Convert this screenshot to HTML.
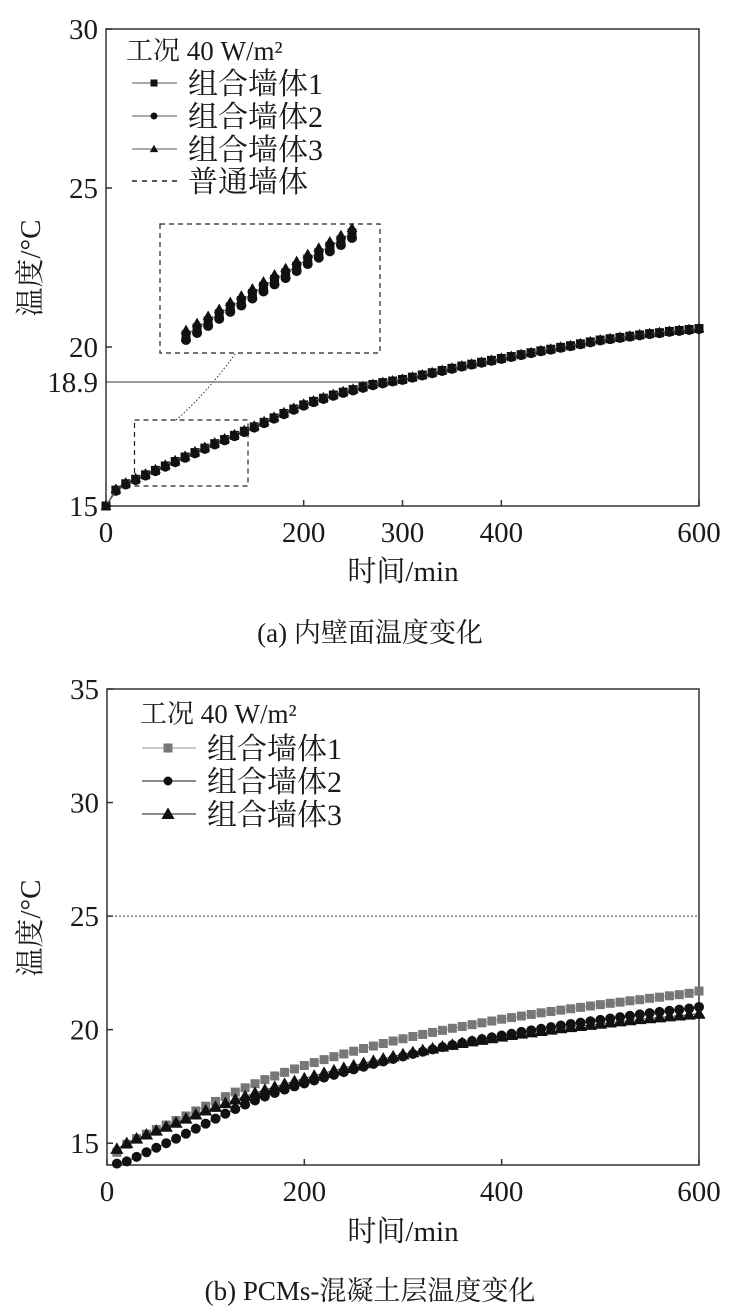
<!DOCTYPE html>
<html><head><meta charset="utf-8">
<style>
html,body{margin:0;padding:0;background:#fff;}
svg{display:block;font-family:"Liberation Serif","Noto Serif CJK SC",serif;}
text{fill:#1a1a1a;}
</style></head>
<body>
<svg id="fig" width="739" height="1316" viewBox="0 0 739 1316" xmlns="http://www.w3.org/2000/svg">
<g id="chartA"></g>
<g id="chartB"></g>
<text x="370" y="642" font-size="27" text-anchor="middle">(a) 内壁面温度变化</text>
<text x="370" y="1300" font-size="27" text-anchor="middle">(b) PCMs-混凝土层温度变化</text>
</svg>
<script>
// ---- Chart A data ----
const timesA = [0,10,20,30,40,50,60,70,80,90,100,110,120,130,140,150,160,170,180,190,200,210,220,230,240,250,260,270,280,290,300,310,320,330,340,350,360,370,380,390,400,410,420,430,440,450,460,470,480,490,500,510,520,530,540,550,560,570,580,590,600];
const wallA1 = [15.0,15.5,15.7,15.84,15.98,16.12,16.26,16.4,16.54,16.68,16.82,16.96,17.09,17.22,17.35,17.49,17.63,17.77,17.91,18.05,18.18,18.29,18.39,18.49,18.58,18.66,18.74,18.82,18.88,18.93,18.98,19.05,19.12,19.19,19.26,19.33,19.4,19.46,19.52,19.58,19.64,19.7,19.76,19.82,19.88,19.93,19.99,20.04,20.1,20.16,20.22,20.26,20.3,20.34,20.38,20.42,20.45,20.49,20.52,20.55,20.58];
const wallA2 = [15.0,15.46,15.66,15.8,15.94,16.08,16.22,16.36,16.5,16.64,16.78,16.92,17.05,17.18,17.31,17.45,17.59,17.73,17.87,18.01,18.14,18.25,18.35,18.45,18.54,18.62,18.7,18.78,18.84,18.9,18.95,19.02,19.09,19.16,19.23,19.3,19.37,19.43,19.49,19.55,19.61,19.67,19.73,19.79,19.85,19.9,19.96,20.01,20.07,20.13,20.19,20.23,20.27,20.31,20.35,20.39,20.42,20.46,20.49,20.52,20.55];
const wallA3 = [15.0,15.54,15.74,15.88,16.02,16.16,16.3,16.44,16.58,16.72,16.86,17.0,17.13,17.26,17.39,17.53,17.67,17.81,17.95,18.09,18.22,18.32,18.42,18.52,18.61,18.69,18.77,18.84,18.9,18.95,19.0,19.07,19.14,19.21,19.28,19.35,19.42,19.48,19.54,19.6,19.66,19.72,19.78,19.84,19.9,19.95,20.01,20.06,20.12,20.18,20.24,20.28,20.32,20.36,20.4,20.44,20.47,20.51,20.54,20.57,20.6];
const ordinaryA = 18.9;
const yTicksA = [15,20,25,30];
const xTicksA = [0,200,300,400,600];
const insetTimes = [30,37,44,51,58,65,72,79,86,93,100,107,114,121,128,135];
const insetVals = [15.84,15.94,16.04,16.14,16.24,16.33,16.43,16.53,16.63,16.72,16.82,16.92,17.01,17.1,17.19,17.29];
// ---- Chart B data ----
const timesB = [10,20,30,40,50,60,70,80,90,100,110,120,130,140,150,160,170,180,190,200,210,220,230,240,250,260,270,280,290,300,310,320,330,340,350,360,370,380,390,400,410,420,430,440,450,460,470,480,490,500,510,520,530,540,550,560,570,580,590,600];
const wallB1 = [14.6,14.95,15.2,15.4,15.6,15.8,16.0,16.2,16.42,16.63,16.84,17.05,17.25,17.44,17.62,17.8,17.96,18.12,18.27,18.42,18.55,18.68,18.81,18.93,19.05,19.17,19.28,19.39,19.5,19.6,19.7,19.79,19.88,19.97,20.06,20.14,20.22,20.3,20.38,20.46,20.53,20.6,20.67,20.74,20.8,20.86,20.92,20.98,21.04,21.1,21.16,21.21,21.27,21.32,21.38,21.43,21.49,21.54,21.6,21.7];
const wallB2 = [14.1,14.2,14.4,14.6,14.8,15.0,15.2,15.42,15.64,15.86,16.08,16.3,16.5,16.7,16.88,17.05,17.21,17.36,17.5,17.63,17.76,17.89,18.01,18.13,18.25,18.37,18.49,18.6,18.71,18.82,18.93,19.03,19.13,19.23,19.32,19.41,19.5,19.58,19.66,19.74,19.82,19.9,19.97,20.04,20.11,20.18,20.25,20.31,20.37,20.43,20.49,20.55,20.61,20.67,20.73,20.78,20.83,20.88,20.93,21.0];
const wallB3 = [14.75,15.0,15.2,15.38,15.55,15.72,15.9,16.08,16.26,16.44,16.6,16.76,16.92,17.07,17.21,17.35,17.48,17.61,17.73,17.85,17.97,18.09,18.2,18.31,18.42,18.52,18.62,18.72,18.82,18.91,19.0,19.09,19.17,19.25,19.33,19.41,19.48,19.55,19.62,19.69,19.76,19.82,19.88,19.94,20.0,20.06,20.11,20.16,20.21,20.26,20.31,20.36,20.41,20.46,20.5,20.54,20.58,20.62,20.66,20.7];
const refLineB = 25;
const yTicksB = [15,20,25,30,35];
const xTicksB = [0,200,400,600];

const NS="http://www.w3.org/2000/svg";
function mk(parent,tag,attrs,txt){const e=document.createElementNS(NS,tag);for(const k in attrs)e.setAttribute(k,attrs[k]);if(txt!==undefined)e.textContent=txt;parent.appendChild(e);return e;}
function lin(d0,d1,r0,r1){return v=>r0+(v-d0)/(d1-d0)*(r1-r0);}
function marker(g,type,x,y,s,fill){
  let e;
  if(type==='sq'){e=mk(g,'rect',{x:x-s/2,y:y-s/2,width:s,height:s,fill:fill});}
  else if(type==='ci'){e=mk(g,'circle',{cx:x,cy:y,r:s/2,fill:fill});}
  else {e=mk(g,'polygon',{points:`${x},${y-s*0.6} ${x-s*0.6},${y+s*0.45} ${x+s*0.6},${y+s*0.45}`,fill:fill});}
  return e;
}
function series(g,name,times,vals,X,Y,type,s,fill,lineCol){
  const sg=mk(g,'g',{});
  
  
  const pts=times.map((t,i)=>X(t)+','+Y(vals[i])).join(' ');
  const pl=mk(sg,'polyline',{points:pts,fill:'none',stroke:lineCol,'stroke-width':1});
  
  
  times.forEach((t,i)=>{
    const m=marker(sg,type,X(t),Y(vals[i]),s,fill);
    
    
  });
}
function axesFrame(g,L,T,R,B,X,Y,xt,yt){
  const f=mk(g,'rect',{x:L,y:T,width:R-L,height:B-T,fill:'none',stroke:'#333','stroke-width':1.5});
  
  
  yt.forEach(v=>{
    mk(g,'line',{x1:L,x2:L+6,y1:Y(v),y2:Y(v),stroke:'#333','stroke-width':1.5});
    const t=mk(g,'text',{x:L-8,y:Y(v)+10,'font-size':29,'text-anchor':'end'},String(v));
    
    
  });
  xt.forEach(v=>{
    mk(g,'line',{x1:X(v),x2:X(v),y1:B,y2:B-6,stroke:'#333','stroke-width':1.5});
    const t=mk(g,'text',{x:X(v),y:B+36,'font-size':29,'text-anchor':'middle'},String(v));
    
    
  });
}

// ===== Chart A =====
(function(){
  const g=document.getElementById('chartA');
  const L=106,R=699,T=29,B=506;
  const X=lin(0,600,L,R), Y=lin(15,30,B,T);
  const rl=mk(g,'line',{x1:L,x2:X(290),y1:Y(ordinaryA),y2:Y(ordinaryA),stroke:'#333','stroke-width':1});
  
  
  const rt=mk(g,'text',{x:L-8,y:Y(ordinaryA)+10,'font-size':29,'text-anchor':'end'},'18.9');
  
  
  axesFrame(g,L,T,R,B,X,Y,xTicksA,yTicksA);
  series(g,'wall-1-series',timesA,wallA1,X,Y,'sq',9,'#111','#555');
  series(g,'wall-2-series',timesA,wallA2,X,Y,'ci',9,'#111','#555');
  series(g,'wall-3-series',timesA,wallA3,X,Y,'tr',9,'#111','#555');
  const sb=mk(g,'rect',{x:134.5,y:420,width:113.5,height:66,fill:'none',stroke:'#222','stroke-width':1.2,'stroke-dasharray':'5,4'});
  
  
  const lb=mk(g,'rect',{x:160,y:224,width:220,height:129,fill:'#fff',stroke:'#222','stroke-width':1.2,'stroke-dasharray':'5,4'});
  
  
  const cl=mk(g,'path',{d:'M176,420 Q205,395 236,353',fill:'none',stroke:'#333','stroke-width':1,'stroke-dasharray':'1.5,2'});
  
  
  const IX=lin(30,135,186,352), IY=lin(15.84,17.29,335,233);
  const ig=mk(g,'g',{});
  
  
  mk(ig,'polyline',{points:insetTimes.map((t,i)=>IX(t)+','+IY(insetVals[i])).join(' '),fill:'none',stroke:'#555','stroke-width':1});
  insetTimes.forEach((t,i)=>{
    const x=IX(t),y=IY(insetVals[i]);
    marker(ig,'tr',x,y-5,9,'#111');
    marker(ig,'sq',x,y,9,'#111');
    marker(ig,'ci',x,y+5,10,'#111');
  });
  const lg=mk(g,'g',{});
  
  
  mk(lg,'text',{x:126,y:60,'font-size':27},'工况 40 W/m²');
  const ents=[['sq','组合墙体1',83],['ci','组合墙体2',116],['tr','组合墙体3',149]];
  ents.forEach(e=>{
    const eg=mk(lg,'g',{});
    
    
    mk(eg,'line',{x1:132,x2:177,y1:e[2],y2:e[2],stroke:'#555','stroke-width':1});
    marker(eg,e[0],154,e[2],7,'#111');
    mk(eg,'text',{x:188,y:e[2]+11,'font-size':30},e[1]);
  });
  const eg=mk(lg,'g',{});
  
  
  mk(eg,'line',{x1:132,x2:177,y1:181,y2:181,stroke:'#222','stroke-width':1.5,'stroke-dasharray':'5,5'});
  mk(eg,'text',{x:188,y:192,'font-size':30},'普通墙体');
  const yl=mk(g,'text',{x:0,y:0,'font-size':29,'text-anchor':'middle',transform:'translate(40,268) rotate(-90)'},'温度/°C');
  
  
  const xl=mk(g,'text',{x:403,y:581,'font-size':29,'text-anchor':'middle'},'时间/min');
  
  
})();

// ===== Chart B =====
(function(){
  const g=document.getElementById('chartB');
  const L=107,R=699,T=689,B=1165;
  const X=lin(0,600,L,R), Y=lin(35,15,T,T+(B-T)*20/20.96);
  const rl=mk(g,'line',{x1:L,x2:R,y1:Y(refLineB),y2:Y(refLineB),stroke:'#333','stroke-width':1,'stroke-dasharray':'2,2'});
  
  
  axesFrame(g,L,T,R,B,X,Y,xTicksB,yTicksB);
  series(g,'wall-1-series-b',timesB,wallB1,X,Y,'sq',9,'#777','#999');
  series(g,'wall-3-series-b',timesB,wallB3,X,Y,'tr',11,'#111','#444');
  series(g,'wall-2-series-b',timesB,wallB2,X,Y,'ci',10,'#111','#444');
  const lg=mk(g,'g',{});
  
  
  mk(lg,'text',{x:140,y:723,'font-size':27},'工况 40 W/m²');
  const ents=[['sq','组合墙体1',748,'#777','#aaa'],['ci','组合墙体2',781,'#111','#444'],['tr','组合墙体3',814,'#111','#444']];
  ents.forEach(e=>{
    const eg=mk(lg,'g',{});
    
    
    mk(eg,'line',{x1:142,x2:196,y1:e[2],y2:e[2],stroke:e[4],'stroke-width':1.3});
    marker(eg,e[0],168,e[2],e[0]==='tr'?11:9,e[3]);
    mk(eg,'text',{x:207,y:e[2]+11,'font-size':30},e[1]);
  });
  const yl=mk(g,'text',{x:0,y:0,'font-size':29,'text-anchor':'middle',transform:'translate(40,928) rotate(-90)'},'温度/°C');
  
  
  const xl=mk(g,'text',{x:403,y:1241,'font-size':29,'text-anchor':'middle'},'时间/min');
  
  
})();
</script>
</body></html>
